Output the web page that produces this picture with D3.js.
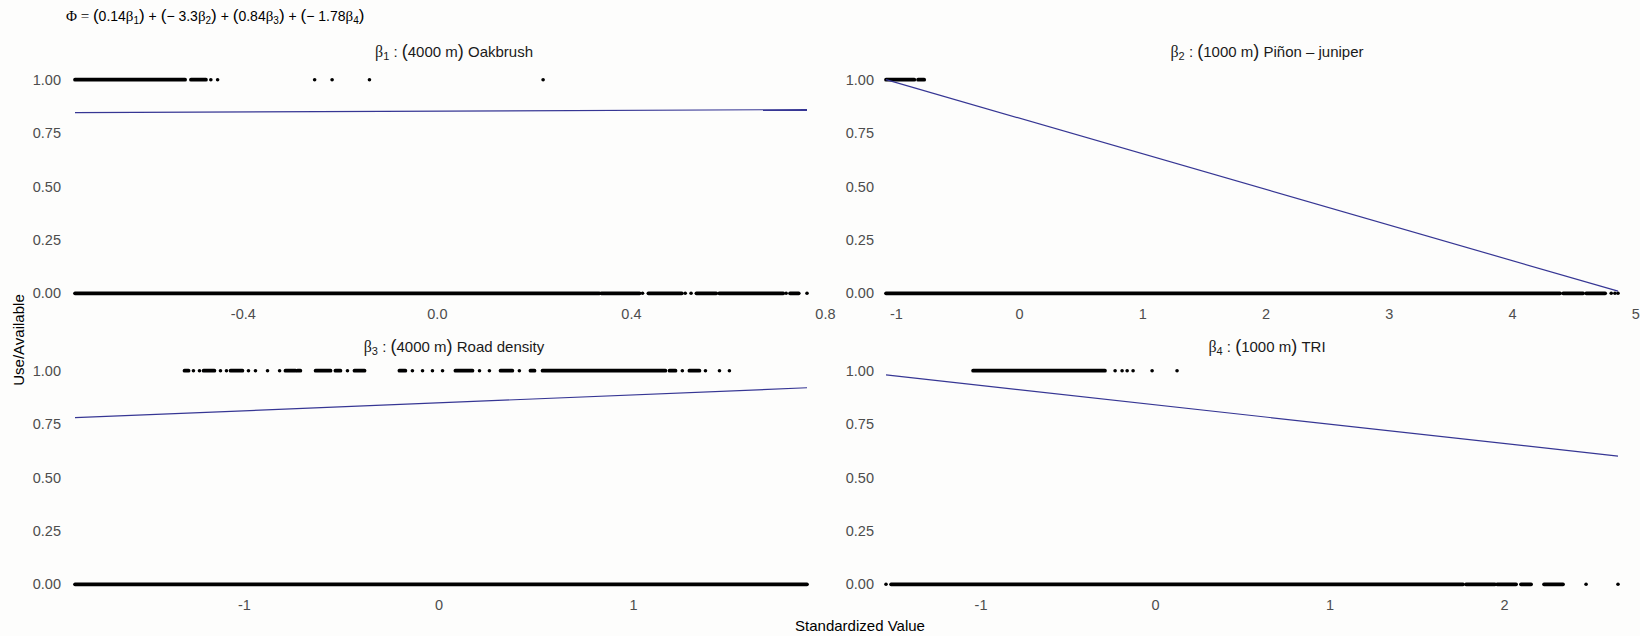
<!DOCTYPE html>
<html>
<head>
<meta charset="utf-8">
<script src="https://cdn.jsdelivr.net/npm/d3@7"></script>
<style>
  html, body { margin: 0; padding: 0; background: #fdfdfc; }
  svg { display: block; }
</style>
</head>
<body>
<div id="container"></div>
<script>
"use strict";

// panel labels
const panelSubs = ["1", "2", "3", "4"];
const panelBuffers = ["4000 m", "1000 m", "4000 m", "1000 m"];
const panelNames = ["Oakbrush", "Piñon – juniper", "Road density", "TRI"];

// formula in the title
const coefValues = ["0.14", "− 3.3", "0.84", "− 1.78"];

// tick labels
const xTicks = [[-0.4, 0, 0.4, 0.8], [-1, 0, 1, 2, 3, 4, 5], [-1, 0, 1], [-1, 0, 1, 2]];
const xDecimals = [1, 0, 0, 0];
const yTicks = [0, 0.25, 0.5, 0.75, 1];

// used points (y = 1): dense runs [from, to] and single points
const useRuns = [
  [[-0.746, -0.519], [-0.507, -0.476]],
  [[-1.080, -0.850], [-0.820, -0.770]],
  [[-1.306, -1.285], [-1.208, -1.152], [-1.069, -1.008], [-0.787, -0.735], [-0.725, -0.710],
   [-0.632, -0.555], [-0.530, -0.504], [-0.432, -0.380], [-0.201, -0.170], [0.087, 0.175],
   [0.319, 0.380], [0.473, 0.494], [0.535, 1.167], [1.188, 1.219], [1.290, 1.342]],
  [[-1.043, -0.287]]
];
const useDots = [
  [-0.466, -0.452, -0.252, -0.216, -0.139, 0.219],
  [],
  [-1.260, -1.229, -1.121, -1.090, -0.977, -0.941, -0.879, -0.817, -0.468, -0.134, -0.082,
   -0.031, 0.021, 0.211, 0.262, 0.416, 1.254, 1.373, 1.445, 1.496],
  [-0.229, -0.189, -0.160, -0.126, -0.017, 0.126]
];

// available points (y = 0)
const availRuns = [
  [[-0.746, 0.335], [0.339, 0.418], [0.436, 0.505], [0.535, 0.576], [0.582, 0.714], [0.728, 0.746]],
  [[-1.080, 4.390], [4.415, 4.577], [4.602, 4.756]],
  [[-1.869, 1.895]],
  [[-1.513, 1.765], [1.782, 1.948], [1.960, 2.069], [2.097, 2.155], [2.229, 2.338]]
];
const availDots = [
  [0.424, 0.512, 0.524, 0.720, 0.763],
  [4.805, 4.835, 4.860],
  [],
  [-1.542, 2.470, 2.653]
];

// fitted probability line, end points
const fitX = [[-0.746, 0.763], [-1.080, 4.860], [-1.869, 1.895], [-1.542, 2.653]];
const fitY = [[0.846, 0.860], [1.000, 0.010], [0.780, 0.920], [0.980, 0.600]];

const width = 1640;
const height = 636;
const panelH = 235;
const dataLeft = [75, 886, 75, 886];
const dataRight = [807, 1618, 807, 1618];
const panelTop = [69, 69, 360, 360];
const yLabelX = [61, 874, 61, 874];
const stripX = [454, 1267, 454, 1267];
const stripY = [57, 57, 352, 352];

const serif = "'Liberation Serif', 'DejaVu Serif', serif";
const sans = "'Liberation Sans', Arial, sans-serif";

const svg = d3.select("#container")
  .append("svg")
  .attr("width", width)
  .attr("height", height)
  .style("background", "#fdfdfc");

// title with the model formula
const title = svg.append("text")
  .attr("x", 66)
  .attr("y", 21)
  .style("font-family", sans)
  .style("font-size", "14px")
  .attr("fill", "#000");
title.append("tspan").style("font-family", serif).style("font-size", "15px").text("Φ = ");
coefValues.forEach((c, i) => {
  if (i > 0) title.append("tspan").text(" + ");
  title.append("tspan").style("font-size", "17px").text("(");
  title.append("tspan").text(c);
  title.append("tspan").style("font-family", serif).style("font-size", "15px").text("β");
  title.append("tspan").attr("dy", 3).style("font-size", "10px").text(i + 1);
  title.append("tspan").attr("dy", -3).style("font-size", "17px").text(")");
});

const drawStrip = (i) => {
  const t = svg.append("text")
    .attr("x", stripX[i])
    .attr("y", stripY[i])
    .attr("text-anchor", "middle")
    .style("font-family", sans)
    .style("font-size", "15px")
    .attr("fill", "#1a1a1a");
  t.append("tspan").style("font-family", serif).style("font-size", "16px").text("β");
  t.append("tspan").attr("dy", 3).style("font-size", "11px").text(panelSubs[i]);
  t.append("tspan").attr("dy", -3).text(" :  ");
  t.append("tspan").style("font-size", "18px").text("(");
  t.append("tspan").text(panelBuffers[i]);
  t.append("tspan").style("font-size", "18px").text(")");
  t.append("tspan").text(" " + panelNames[i]);
};

for (let i = 0; i < 4; i++) {
  const T = panelTop[i];

  const allX = [
    ...useRuns[i].flat(), ...useDots[i], ...availRuns[i].flat(), ...availDots[i]
  ];
  const x = d3.scaleLinear().domain(d3.extent(allX)).range([dataLeft[i], dataRight[i]]);
  const y = d3.scaleLinear().domain([-0.05, 1.05]).range([T + panelH, T]);

  // axes
  const xAxis = svg.append("g")
    .attr("transform", `translate(0,${T + panelH})`)
    .call(d3.axisBottom(x).tickValues(xTicks[i]).tickSize(0).tickPadding(5)
      .tickFormat(d => d.toFixed(xDecimals[i])));
  const yAxis = svg.append("g")
    .attr("transform", `translate(${yLabelX[i] + 4},0)`)
    .call(d3.axisLeft(y).tickValues(yTicks).tickSize(0).tickPadding(4)
      .tickFormat(d => d.toFixed(2)));

  [xAxis, yAxis].forEach(a => {
    a.select(".domain").remove();
    a.attr("font-family", null).attr("font-size", null);
    a.selectAll("text")
      .style("font-family", sans)
      .style("font-size", "14.5px")
      .attr("fill", "#4d4d4d");
  });

  drawStrip(i);

  const g = svg.append("g");

  // runs of overlapping points
  const runs = [
    ...availRuns[i].map(r => ({ r: r, v: 0 })),
    ...useRuns[i].map(r => ({ r: r, v: 1 }))
  ];
  g.selectAll("line.run")
    .data(runs)
    .enter()
    .append("line")
    .attr("class", "run")
    .attr("x1", d => x(d.r[0]))
    .attr("x2", d => x(d.r[1]))
    .attr("y1", d => y(d.v))
    .attr("y2", d => y(d.v))
    .attr("stroke", "#000")
    .attr("stroke-width", 3.7)
    .attr("stroke-linecap", "round");

  const dots = [
    ...availDots[i].map(d => ({ x: d, v: 0 })),
    ...useDots[i].map(d => ({ x: d, v: 1 }))
  ];
  g.selectAll("circle")
    .data(dots)
    .enter()
    .append("circle")
    .attr("cx", d => x(d.x))
    .attr("cy", d => y(d.v))
    .attr("r", 1.8)
    .attr("fill", "#000");

  // fitted line
  const fit = fitX[i].map((v, k) => [v, fitY[i][k]]);
  g.append("path")
    .datum(fit)
    .attr("d", d3.line().x(d => x(d[0])).y(d => y(d[1])))
    .attr("fill", "none")
    .attr("stroke", "#363694")
    .attr("stroke-width", 1.2);
}

// axis titles
svg.append("text")
  .attr("transform", "translate(24,340) rotate(-90)")
  .attr("text-anchor", "middle")
  .style("font-family", sans)
  .style("font-size", "15px")
  .attr("fill", "#000")
  .text("Use/Available");

svg.append("text")
  .attr("x", 860)
  .attr("y", 631)
  .attr("text-anchor", "middle")
  .style("font-family", sans)
  .style("font-size", "15px")
  .attr("fill", "#000")
  .text("Standardized Value");
</script>
</body>
</html>
